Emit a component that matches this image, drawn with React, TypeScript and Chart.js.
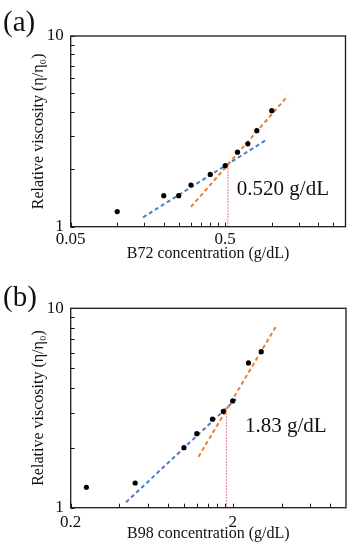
import React, { useEffect, useRef } from 'react';
import { Chart, registerables } from 'chart.js';

Chart.register(...registerables);

const FONT = "'Liberation Serif', 'Times New Roman', Times, serif";

// ---------- Panel (a): B72 ----------
const concA = [0.1, 0.2, 0.25, 0.3, 0.4, 0.5, 0.6, 0.7, 0.8, 1.0];
const viscA = [1.2, 1.455, 1.455, 1.655, 1.88, 2.09, 2.46, 2.72, 3.19, 4.06];
const fitDiluteAX = [0.147, 0.94];
const fitDiluteAY = [1.12, 2.88];
const fitSemiAX = [0.3, 1.27];
const fitSemiAY = [1.27, 4.85];
const critAX = [0.52, 0.52];
const critAY = [1, 2.12];
const xTicksA = [0.05, 0.1, 0.15, 0.2, 0.25, 0.3, 0.35, 0.4, 0.45, 0.5, 1, 1.5, 2, 2.5];
const xTickLabelsA = ['0.05', '', '', '', '', '', '', '', '', '0.5', '', '', '', ''];

// ---------- Panel (b): B98 ----------
const concB = [0.25, 0.5, 1.0, 1.2, 1.5, 1.75, 2.0, 2.5, 3.0];
const viscB = [1.266, 1.33, 2.0, 2.35, 2.78, 3.04, 3.43, 5.32, 6.06];
const fitDiluteBX = [0.439, 2.17];
const fitDiluteBY = [1.064, 3.6];
const fitSemiBX = [1.23, 3.74];
const fitSemiBY = [1.8, 8.25];
const critBX = [1.83, 1.83];
const critBY = [1, 3.2];
const xTicksB = [0.2, 0.4, 0.6, 0.8, 1, 1.2, 1.4, 1.6, 1.8, 2, 4, 6, 8];
const xTickLabelsB = ['0.2', '', '', '', '', '', '', '', '', '2', '', '', ''];

// ---------- shared y axis ----------
const yTicks = [1, 2, 3, 4, 5, 6, 7, 8, 9, 10];
const yTickLabels = ['1', '', '', '', '', '', '', '', '', '10'];

const pts = (xs: number[], ys: number[]) => xs.map((x, i) => ({ x, y: ys[i] }));

type PanelCfg = {
  panel: string;
  xTitle: string;
  xMin: number;
  xMax: number;
  xTicks: number[];
  xTickLabels: string[];
  conc: number[];
  visc: number[];
  dilX: number[];
  dilY: number[];
  semX: number[];
  semY: number[];
  critX: number[];
  critY: number[];
  note: string;
  noteY: number;
  noteDx: number;
  padTop: number;
  padRight: number;
  xAxisH: number;
  xLabelOffset: number;
  xTitlePad: number;
};

const panelA: PanelCfg = {
  panel: '(a)',
  xTitle: 'B72 concentration (g/dL)',
  xMin: 0.05,
  xMax: 3,
  xTicks: xTicksA,
  xTickLabels: xTickLabelsA,
  conc: concA,
  visc: viscA,
  dilX: fitDiluteAX,
  dilY: fitDiluteAY,
  semX: fitSemiAX,
  semY: fitSemiAY,
  critX: critAX,
  critY: critAY,
  note: '0.520 g/dL',
  noteY: 1.56,
  noteDx: 9,
  padTop: 36,
  padRight: 8.5,
  xAxisH: 48.3,
  xLabelOffset: 12.5,
  xTitlePad: 11.4,
};

const panelB: PanelCfg = {
  panel: '(b)',
  xTitle: 'B98 concentration (g/dL)',
  xMin: 0.2,
  xMax: 10,
  xTicks: xTicksB,
  xTickLabels: xTickLabelsB,
  conc: concB,
  visc: viscB,
  dilX: fitDiluteBX,
  dilY: fitDiluteBY,
  semX: fitSemiBX,
  semY: fitSemiBY,
  critX: critBX,
  critY: critBY,
  note: '1.83 g/dL',
  noteY: 2.55,
  noteDx: 18.5,
  padTop: 33.3,
  padRight: 8,
  xAxisH: 42.3,
  xLabelOffset: 14.5,
  xTitlePad: 6.4,
};

function makePlugin(cfg: PanelCfg) {
  return {
    id: 'frameAndNotes',
    afterDatasetsDraw(chart: any) {
      const { ctx, chartArea: a, scales } = chart;
      const xs = scales.x;
      const ys = scales.y;
      ctx.save();
      // inward tick marks
      ctx.strokeStyle = '#1a1a1a';
      ctx.lineWidth = 1;
      ctx.beginPath();
      for (const t of xs.ticks) {
        const px = Math.round(xs.getPixelForValue(t.value)) + 0.5;
        ctx.moveTo(px, a.bottom);
        ctx.lineTo(px, a.bottom - 4);
      }
      for (const t of ys.ticks) {
        const py = Math.round(ys.getPixelForValue(t.value)) + 0.5;
        ctx.moveTo(a.left, py);
        ctx.lineTo(a.left + 4, py);
      }
      ctx.stroke();
      // plot frame
      ctx.lineWidth = 1.3;
      ctx.strokeRect(a.left, a.top, a.right - a.left, a.bottom - a.top);
      // x tick labels (major only)
      ctx.fillStyle = '#111';
      ctx.textBaseline = 'middle';
      ctx.textAlign = 'center';
      ctx.font = `17px ${FONT}`;
      cfg.xTicks.forEach((v, i) => {
        const lab = cfg.xTickLabels[i];
        if (lab) ctx.fillText(lab, xs.getPixelForValue(v), a.bottom + cfg.xLabelOffset);
      });
      // annotation
      ctx.textAlign = 'left';
      ctx.font = `21px ${FONT}`;
      ctx.fillText(cfg.note, xs.getPixelForValue(cfg.critX[0]) + cfg.noteDx, ys.getPixelForValue(cfg.noteY));
      // panel letter
      ctx.font = `29px ${FONT}`;
      ctx.fillText(cfg.panel, 3, 23);
      ctx.restore();
    },
  };
}

function buildConfig(cfg: PanelCfg): any {
  return {
    type: 'scatter',
    data: {
      datasets: [
        {
          data: pts(cfg.conc, cfg.visc),
          backgroundColor: '#000',
          borderWidth: 0,
          pointRadius: 2.6,
          showLine: false,
          order: 0,
        },
        {
          data: pts(cfg.dilX, cfg.dilY),
          borderColor: '#4A7EC4',
          borderWidth: 2,
          borderDash: [4, 3],
          pointRadius: 0,
          showLine: true,
          order: 2,
        },
        {
          data: pts(cfg.semX, cfg.semY),
          borderColor: '#ED7D31',
          borderWidth: 2,
          borderDash: [4, 3],
          pointRadius: 0,
          showLine: true,
          order: 1,
        },
        {
          data: pts(cfg.critX, cfg.critY),
          borderColor: '#E77A86',
          borderWidth: 1.3,
          borderDash: [1.5, 1.5],
          pointRadius: 0,
          showLine: true,
          order: 3,
        },
      ],
    },
    options: {
      responsive: false,
      animation: false,
      devicePixelRatio: 1,
      layout: { padding: { top: cfg.padTop, right: cfg.padRight, left: 0, bottom: 0 } },
      plugins: { legend: { display: false }, tooltip: { enabled: false } },
      scales: {
        x: {
          type: 'logarithmic',
          position: 'bottom',
          min: cfg.xMin,
          max: cfg.xMax,
          afterBuildTicks: (s: any) => {
            s.ticks = cfg.xTicks.map((v) => ({ value: v }));
          },
          afterFit: (s: any) => {
            s.height = cfg.xAxisH;
          },
          grid: { display: false, drawTicks: false },
          border: { display: false },
          ticks: { display: false, autoSkip: false },
          title: {
            display: true,
            text: cfg.xTitle,
            color: '#111',
            font: { family: FONT, size: 16 },
            padding: { top: 0, bottom: cfg.xTitlePad },
          },
        },
        y: {
          type: 'logarithmic',
          position: 'left',
          min: 1,
          max: 10,
          afterBuildTicks: (s: any) => {
            s.ticks = yTicks.map((v) => ({ value: v }));
          },
          afterFit: (s: any) => {
            s.width = 70.7;
          },
          grid: { display: false, drawTicks: false },
          border: { display: false },
          ticks: {
            autoSkip: false,
            padding: 7,
            color: '#111',
            font: { family: FONT, size: 17 },
            callback: (_v: number, i: number) => yTickLabels[i] ?? '',
          },
          title: {
            display: true,
            text: 'Relative viscosity (η/η₀)',
            color: '#111',
            font: { family: FONT, size: 16 },
            padding: { top: 29, bottom: 0 },
          },
        },
      },
    },
    plugins: [makePlugin(cfg)],
  };
}

function Panel({ cfg }: { cfg: PanelCfg }) {
  const ref = useRef<HTMLCanvasElement>(null);
  useEffect(() => {
    if (!ref.current) return;
    const chart = new Chart(ref.current, buildConfig(cfg));
    return () => chart.destroy();
  }, [cfg]);
  return (
    <canvas
      ref={ref}
      width={354}
      height={275}
      style={{ display: 'block', width: 354, height: 275 }}
    />
  );
}

export default function App() {
  return (
    <div
      style={{
        position: 'absolute',
        left: 0,
        top: 0,
        width: 354,
        height: 550,
        background: '#fff',
      }}
    >
      <Panel cfg={panelA} />
      <Panel cfg={panelB} />
    </div>
  );
}
